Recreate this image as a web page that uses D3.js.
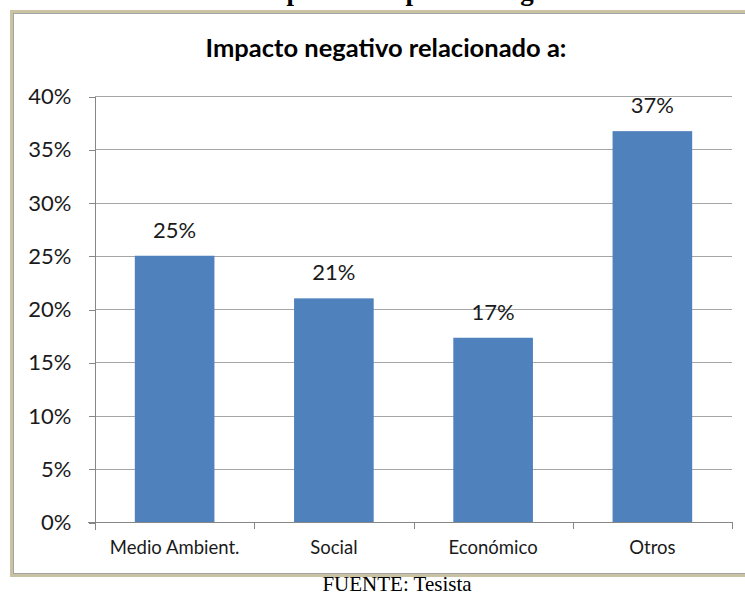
<!DOCTYPE html>
<meta charset='utf-8'>
<style>
  body { margin: 0; background: #fff; }
  svg { display: block; }
  .grid line { stroke: #a6a6a6; stroke-width: 1px; shape-rendering: crispEdges; }
  .axis line, .axis path { stroke: #868686; shape-rendering: crispEdges; }
  text { font-family: Lato, 'Noto Sans', sans-serif; fill: #1a1a1a; }
</style>
<svg width='745' height='593'></svg>
<script src='https://cdn.jsdelivr.net/npm/d3@7/dist/d3.min.js'></script>
<script>
  var categories = ['Medio Ambient.', 'Social', 'Económico', 'Otros'];
  var values = [25.0, 21.0, 17.3, 36.7];
  var valueLabels = ['25%', '21%', '17%', '37%'];
  var yTicks = [0, 5, 10, 15, 20, 25, 30, 35, 40];

  var svg = d3.select('svg');

  // cut-off caption from the page above (only descenders show)
  svg.selectAll('text.cut')
    .data([['p', 294], ['p', 413], ['g', 527]])
    .enter().append('text')
      .attr('class', 'cut')
      .attr('x', d => d[1])
      .attr('y', 0)
      .attr('text-anchor', 'middle')
      .style('font-family', "'Liberation Serif', serif")
      .style('font-weight', 'bold')
      .style('font-size', '27px')
      .style('fill', '#000')
      .text(d => d[0]);

  // picture frame
  svg.append('rect')
    .attr('x', 11.5).attr('y', 11.5).attr('width', 760).attr('height', 564)
    .attr('fill', '#fff').attr('stroke', '#c9c3a3').attr('stroke-width', 3);
  svg.append('rect')
    .attr('x', 13.5).attr('y', 13.5).attr('width', 760).attr('height', 560)
    .attr('fill', 'none').attr('stroke', '#a3a3a3').attr('stroke-width', 1);

  var x = d3.scaleBand()
    .domain(categories)
    .range([95, 732])
    .paddingInner(0.5)
    .paddingOuter(0.25);

  var y = d3.scaleLinear()
    .domain([0, 40])
    .range([522, 96]);

  // gridlines
  svg.append('g')
    .attr('class', 'grid')
    .selectAll('line')
    .data(yTicks.slice(1))
    .enter().append('line')
      .attr('x1', 95).attr('x2', 732)
      .attr('y1', d => Math.round(y(d)) + 0.5)
      .attr('y2', d => Math.round(y(d)) + 0.5);

  // y axis
  var yAxis = svg.append('g')
    .attr('class', 'axis')
    .attr('transform', 'translate(95.5,0.5)')
    .call(d3.axisLeft(y).tickValues(yTicks).tickSize(7).tickPadding(24 - 7).tickFormat(d => d + '%'));
  yAxis.select('.domain').attr('d', 'M0,' + (y(0) + 7) + 'V' + y(40));
  yAxis.selectAll('text')
    .style('font-size', '22px')
    .style('font-family', "Lato, 'Noto Sans', sans-serif")
    .attr('fill', '#1a1a1a');

  // x axis baseline and category boundary ticks
  var step = x.step();
  var bounds = categories.map(c => x(c) - step * 0.25).concat([732]);
  var xAxis = svg.append('g').attr('class', 'axis');
  xAxis.append('line')
    .attr('x1', 88).attr('x2', 732)
    .attr('y1', Math.round(y(0)) + 0.5).attr('y2', Math.round(y(0)) + 0.5)
    .attr('stroke-width', 1.5);
  xAxis.selectAll('line.tk')
    .data(bounds)
    .enter().append('line')
      .attr('class', 'tk')
      .attr('x1', d => Math.round(d) + 0.5).attr('x2', d => Math.round(d) + 0.5)
      .attr('y1', y(0)).attr('y2', y(0) + 7);

  // bars
  svg.append('g')
    .selectAll('rect')
    .data(values)
    .enter().append('rect')
      .attr('x', (d, i) => x(categories[i]))
      .attr('width', x.bandwidth())
      .attr('y', d => y(d))
      .attr('height', d => y(0) - y(d))
      .attr('fill', '#4f81bd');

  // value labels
  svg.append('g')
    .selectAll('text')
    .data(values)
    .enter().append('text')
      .attr('x', (d, i) => x(categories[i]) + x.bandwidth() / 2)
      .attr('y', d => y(d) - 18)
      .attr('text-anchor', 'middle')
      .style('font-size', '22px')
      .text((d, i) => valueLabels[i]);

  // category labels
  svg.append('g')
    .selectAll('text')
    .data(categories)
    .enter().append('text')
      .attr('x', d => x(d) + x.bandwidth() / 2)
      .attr('y', 554)
      .attr('text-anchor', 'middle')
      .style('font-size', '18.5px')
      .text(d => d);

  // title
  svg.append('text')
    .attr('x', 386)
    .attr('y', 57)
    .attr('text-anchor', 'middle')
    .style('font-size', '25.5px')
    .style('font-weight', 'bold')
    .style('fill', '#000')
    .text('Impacto negativo relacionado a:');

  // source note
  svg.append('text')
    .attr('x', 397)
    .attr('y', 591)
    .attr('text-anchor', 'middle')
    .style('font-family', "'Liberation Serif', 'Times New Roman', serif")
    .style('font-size', '21px')
    .style('fill', '#000')
    .text('FUENTE: Tesista');
</script>
